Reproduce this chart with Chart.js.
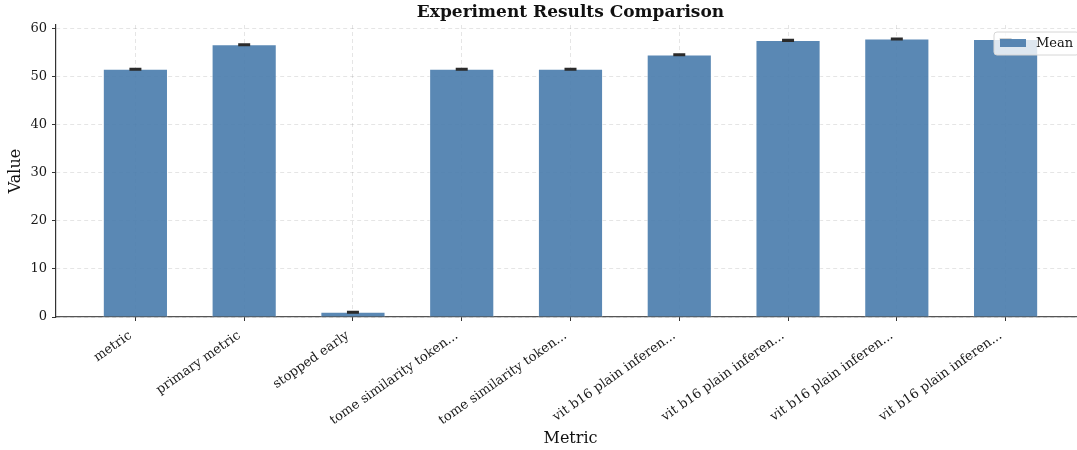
<!DOCTYPE html>
<html>
<head>
<meta charset="utf-8">
<script src="https://cdn.jsdelivr.net/npm/chart.js@4.4.0/dist/chart.umd.min.js"></script>
<style>
  html, body { margin: 0; padding: 0; background: #fff; overflow: hidden; }
  #wrap { width: 1085px; height: 450px; }
</style>
</head>
<body>
<div id="wrap"><canvas id="resultsChart" width="1085" height="450"></canvas></div>
<script>
// values
const metricLabels = [
    'metric',
    'primary metric',
    'stopped early',
    'tome similarity token...',
    'tome similarity token...',
    'vit b16 plain inferen...',
    'vit b16 plain inferen...',
    'vit b16 plain inferen...',
    'vit b16 plain inferen...'
];
const meanValues = [51.6, 56.7, 1.0, 51.6, 51.6, 54.6, 57.6, 57.9, 57.8];
const errorValues = [0.15, 0.15, 0.15, 0.15, 0.15, 0.15, 0.15, 0.15, 0.15];
const yTicks = [0, 10, 20, 30, 40, 50, 60];

const serif = '"DejaVu Serif", "Liberation Serif", serif';

// error bars on top of the bars
const errorBarPlugin = {
    id: 'errorBars',
    afterDatasetsDraw(chart) {
        const ctx = chart.ctx;
        const x = chart.scales.x;
        const y = chart.scales.y;
        ctx.save();
        ctx.strokeStyle = '#2b2b2b';
        ctx.lineWidth = 1.6;
        meanValues.forEach((m, i) => {
            const px = x.getPixelForValue(i);
            const top = y.getPixelForValue(m + errorValues[i]);
            const bot = y.getPixelForValue(m - errorValues[i]);
            ctx.beginPath();
            ctx.moveTo(px, top);
            ctx.lineTo(px, bot);
            ctx.moveTo(px - 6, top);
            ctx.lineTo(px + 6, top);
            ctx.moveTo(px - 6, bot);
            ctx.lineTo(px + 6, bot);
            ctx.stroke();
        });
        ctx.restore();
    }
};

// title centred on the axes + legend box in the upper right corner
const decorPlugin = {
    id: 'decor',
    afterDraw(chart) {
        const ctx = chart.ctx;
        const area = chart.chartArea;
        ctx.save();
        ctx.fillStyle = '#111';
        ctx.font = 'bold 17px ' + serif;
        ctx.textAlign = 'center';
        ctx.textBaseline = 'middle';
        ctx.fillText('Experiment Results Comparison', (area.left + area.right) / 2, 12.5);

        // legend
        const bx = 994, by = 32, bw = 85, bh = 23, r = 3;
        ctx.beginPath();
        ctx.moveTo(bx + r, by);
        ctx.lineTo(bx + bw - r, by);
        ctx.quadraticCurveTo(bx + bw, by, bx + bw, by + r);
        ctx.lineTo(bx + bw, by + bh - r);
        ctx.quadraticCurveTo(bx + bw, by + bh, bx + bw - r, by + bh);
        ctx.lineTo(bx + r, by + bh);
        ctx.quadraticCurveTo(bx, by + bh, bx, by + bh - r);
        ctx.lineTo(bx, by + r);
        ctx.quadraticCurveTo(bx, by, bx + r, by);
        ctx.closePath();
        ctx.fillStyle = 'rgba(255,255,255,0.8)';
        ctx.fill();
        ctx.strokeStyle = '#d6d6d6';
        ctx.lineWidth = 1;
        ctx.stroke();

        ctx.fillStyle = 'rgba(72,123,172,0.9)';
        ctx.fillRect(1000, 39, 26, 8);
        ctx.fillStyle = '#111';
        ctx.font = '13px ' + serif;
        ctx.textAlign = 'left';
        ctx.fillText(chart.data.datasets[0].label, 1036, 44);
        ctx.restore();
    }
};

const ctx = document.getElementById('resultsChart').getContext('2d');
window.resultsChart = new Chart(ctx, {
    type: 'bar',
    data: {
        datasets: [{
            label: 'Mean',
            data: meanValues.map((v, i) => ({ x: i, y: v })),
            backgroundColor: 'rgba(72,123,172,0.9)',
            borderColor: 'rgba(255,255,255,0.5)',
            borderWidth: 1,
            barThickness: 64.5
        }]
    },
    options: {
        responsive: false,
        animation: false,
        layout: { padding: { top: 25, left: 0, right: 0, bottom: 0 } },
        plugins: {
            legend: { display: false },
            title: { display: false },
            tooltip: { enabled: false }
        },
        scales: {
            x: {
                type: 'linear',
                offset: false,
                min: -0.73,
                max: 8.73,
                afterBuildTicks: axis => {
                    axis.ticks = metricLabels.map((l, i) => ({ value: i }));
                },
                afterFit: axis => { axis.height = 133; },
                ticks: {
                    autoSkip: false,
                    minRotation: 35,
                    maxRotation: 35,
                    padding: 7,
                    labelOffset: -5,
                    color: '#1a1a1a',
                    font: { family: serif, size: 13 },
                    callback: value => metricLabels[value]
                },
                grid: {
                    offset: false,
                    color: 'rgba(0,0,0,0.1)',
                    tickColor: '#333',
                    tickLength: 4,
                    tickBorderDash: []
                },
                border: { color: '#555', width: 1.2, dash: [4, 3] },
                title: {
                    display: true,
                    text: 'Metric',
                    color: '#111',
                    font: { family: serif, size: 16 },
                    padding: { top: 0, bottom: 2 }
                }
            },
            y: {
                min: 0,
                max: 60.8,
                afterBuildTicks: axis => {
                    axis.ticks = yTicks.map(v => ({ value: v }));
                },
                afterFit: axis => { axis.width = 56; },
                ticks: {
                    padding: 5,
                    color: '#1a1a1a',
                    font: { family: serif, size: 13 }
                },
                grid: {
                    color: 'rgba(0,0,0,0.1)',
                    tickColor: '#333',
                    tickLength: 4,
                    tickBorderDash: []
                },
                border: { color: '#333', width: 1.2, dash: [4, 3] },
                title: {
                    display: true,
                    text: 'Value',
                    color: '#111',
                    font: { family: serif, size: 16 },
                    padding: { top: 6, bottom: 0 }
                }
            }
        }
    },
    plugins: [errorBarPlugin, decorPlugin]
});
</script>
</body>
</html>
